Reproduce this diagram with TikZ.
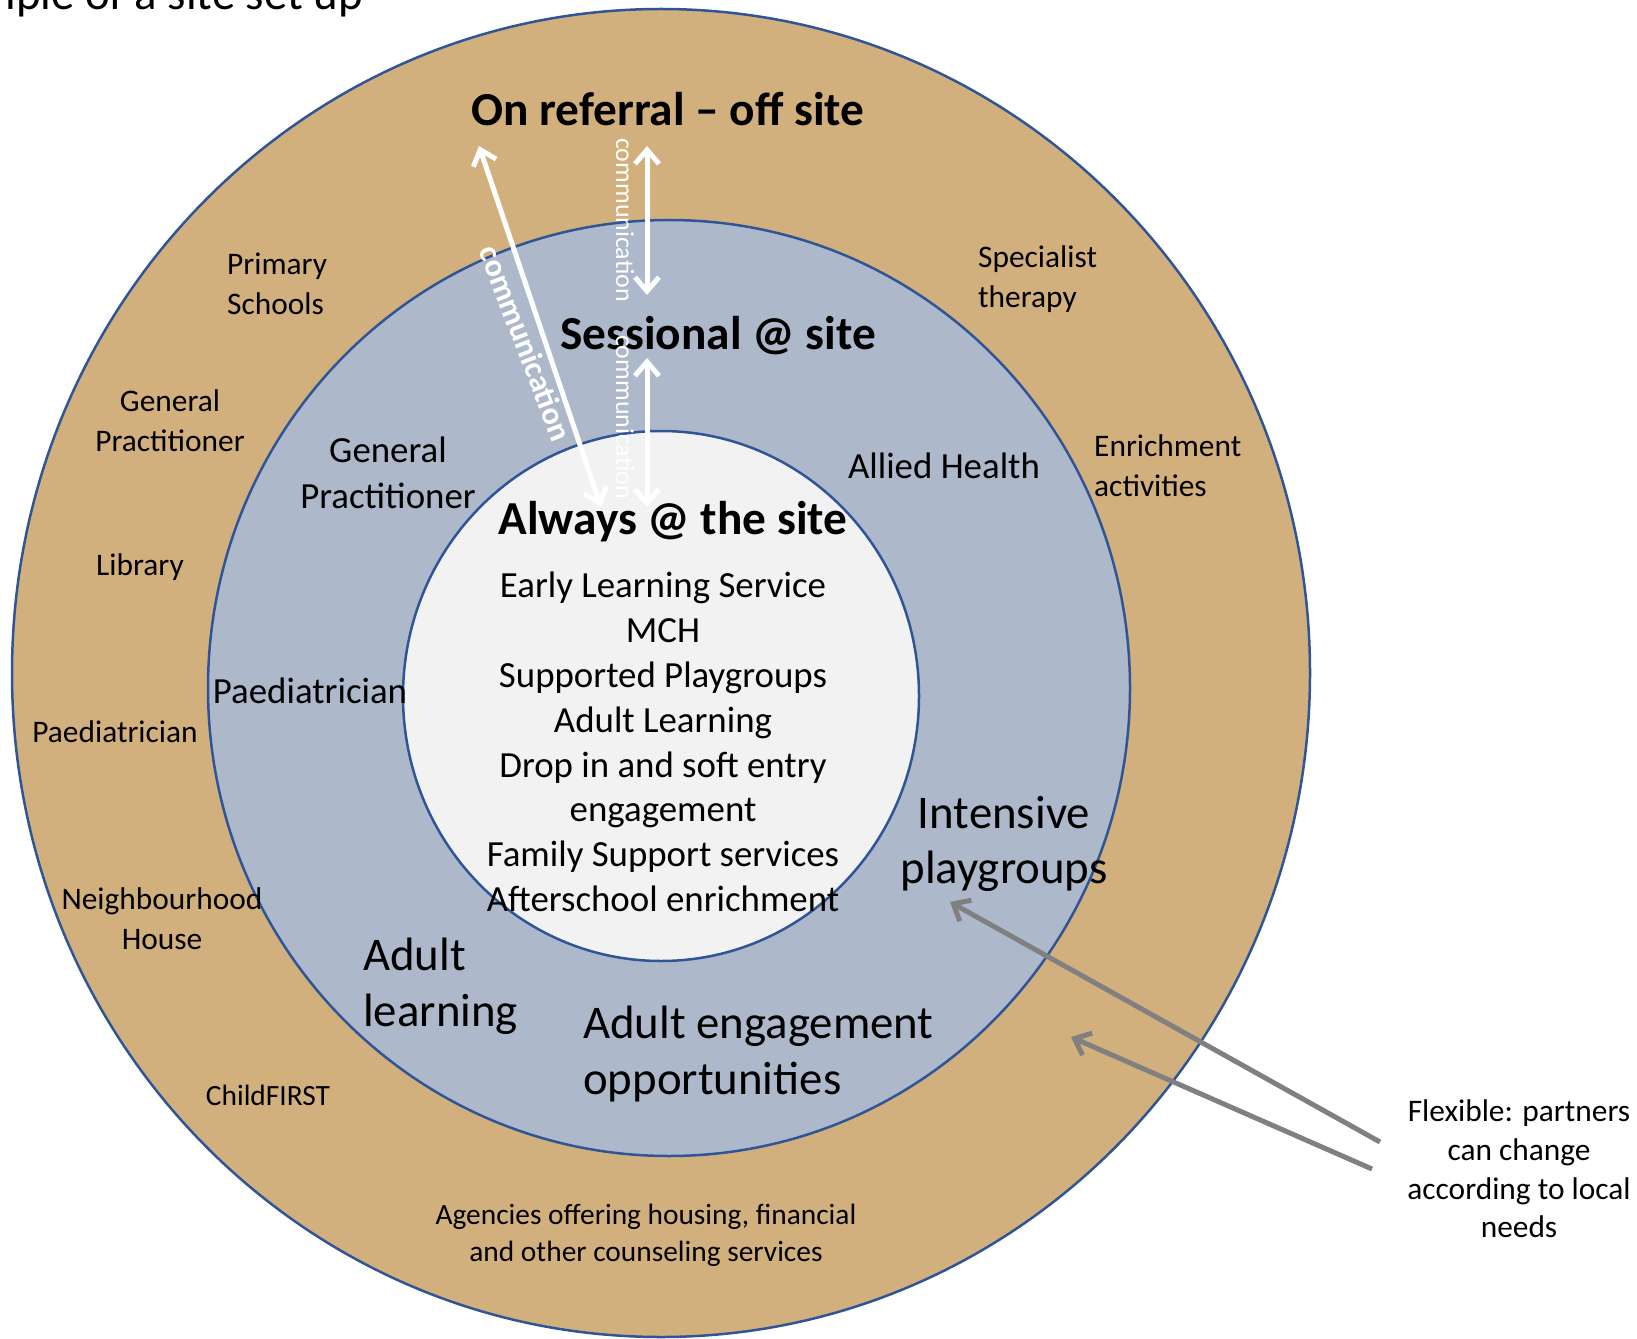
\documentclass[tikz,border=0pt]{standalone}
\usepackage{fontspec}
\setmainfont{Carlito}
\usepackage{tikz}
\usetikzlibrary{positioning}
\usetikzlibrary{arrows.meta}
\definecolor{ringtan}{HTML}{D2B07E}
\definecolor{ringblue}{HTML}{ADB9CA}
\definecolor{ringcore}{HTML}{F2F2F2}
\definecolor{ringline}{HTML}{2F5597}
\definecolor{notegray}{HTML}{808080}
\tikzset{ring/.style={draw=ringline, line width=2.5bp}}
\tikzset{headtext/.style={inner sep=0pt, font=\fontsize{47.5}{56}\selectfont\bfseries}}
\tikzset{bigtext/.style={inner sep=0pt, align=left, font=\fontsize{47}{56}\selectfont}}
\tikzset{midtext/.style={inner sep=0pt, align=center, font=\fontsize{37}{45}\selectfont}}
\tikzset{outtext/.style={inner sep=0pt, align=center, font=\fontsize{31.5}{40}\selectfont}}
\tikzset{commlabel/.style={inner sep=0pt, text=white, font=\fontsize{26}{30}\selectfont}}
\tikzset{commarrow/.style={draw=white, line width=5bp, {Straight Barb[length=14bp,width=24bp]}-{Straight Barb[length=14bp,width=24bp]}}}
\tikzset{notearrow/.style={draw=notegray, line width=5bp, -{Straight Barb[length=14bp,width=24bp]}}}

\begin{document}
\begin{tikzpicture}[x=1bp, y=-1bp]
    \useasboundingbox (0,0) rectangle (1637,1339);
    \clip (0,0) rectangle (1637,1339);

    % the three rings
    \draw[ring, fill=ringtan]  (661,673) ellipse [x radius=649, y radius=664];
    \draw[ring, fill=ringblue] (669,688) ellipse [x radius=461, y radius=468];
    \draw[ring, fill=ringcore] (661,696) ellipse [x radius=258, y radius=265];

    \node[bigtext, anchor=base east] (title)      at (363,10)   {Example of a site set up};

    % headings
    \node[headtext]                  (referral)   at (668,109)  {On referral – off site};
    \node[headtext]                  (sessional)  at (718,336)  {Sessional @ site};
    \node[headtext]                  (always)     at (673,522)  {Always @ the site};

    % inner circle
    \node[midtext]                   (core)       at (663,742)  {Early Learning Service\\MCH\\Supported Playgroups\\Adult Learning\\Drop in and soft entry\\engagement\\Family Support services\\Afterschool enrichment};

    % middle ring
    \node[midtext, font=\fontsize{37}{46}\selectfont] (midgp) at (388,473) {General\\Practitioner};
    \node[midtext]                   (midpaed)    at (310,691)  {Paediatrician};
    \node[midtext]                   (allied)     at (944,466)  {Allied Health};
    \node[bigtext, align=center]     (intensive)  at (1004,844) {Intensive\\playgroups};
    \node[bigtext, anchor=west]      (adultlearn) at (363,986)  {Adult\\learning};
    \node[bigtext, anchor=west]      (adulteng)   at (583,1054) {Adult engagement\\opportunities};

    % outer ring
    \node[outtext, align=left, anchor=west] (primary) at (227,284) {Primary\\Schools};
    \node[outtext]                   (outgp)      at (170,421)  {General\\Practitioner};
    \node[outtext]                   (library)    at (140,567)  {Library};
    \node[outtext]                   (outpaed)    at (115,732)  {Paediatrician};
    \node[outtext]                   (neighbour)  at (162,919)  {Neighbourhood\\House};
    \node[outtext, font=\fontsize{29.5}{37}\selectfont] (childfirst) at (268,1095) {ChildFIRST};
    \node[outtext, font=\fontsize{29.5}{37}\selectfont] (agencies)   at (646,1235) {Agencies offering housing, financial\\and other counseling services};
    \node[outtext, align=left, anchor=west] (specialist) at (978,279) {Specialist\\therapy};
    \node[outtext, align=left, anchor=west] (enrich)     at (1094,466) {Enrichment\\activities};

    % note on the right
    \node[outtext, font=\fontsize{31.5}{38.7}\selectfont] (flex) at (1519,1169) {Flexible: partners\\can change\\according to local\\needs};

    % communication arrows
    \coordinate (diagtop) at (479,146);
    \coordinate (diagend) at (601,507);
    \coordinate (uptop)   at (647,146);
    \coordinate (upend)   at (647,295);
    \coordinate (lowtop)  at (647,358);
    \coordinate (lowend)  at (647,507);
    \draw[commarrow] (diagtop) -- (diagend);
    \draw[commarrow] (uptop) -- (upend);
    \draw[commarrow] (lowtop) -- (lowend);

    \node[commlabel, font=\fontsize{32}{38}\selectfont\bfseries, rotate=-69] (diaglabel) at (526,343) {communication};
    \node[commlabel, rotate=-90]     (uplabel)    at (625,220)  {communication};
    \node[commlabel, rotate=-90]     (lowlabel)   at (625,417)  {communication};

    % flexible arrows
    \coordinate (flexa)   at (1380,1142);
    \coordinate (flexb)   at (1372,1169);
    \coordinate (playaim) at (950,902);
    \coordinate (ringaim) at (1071,1037);
    \draw[notearrow] (flexa) -- (playaim);
    \draw[notearrow] (flexb) -- (ringaim);
\end{tikzpicture}
\end{document}
